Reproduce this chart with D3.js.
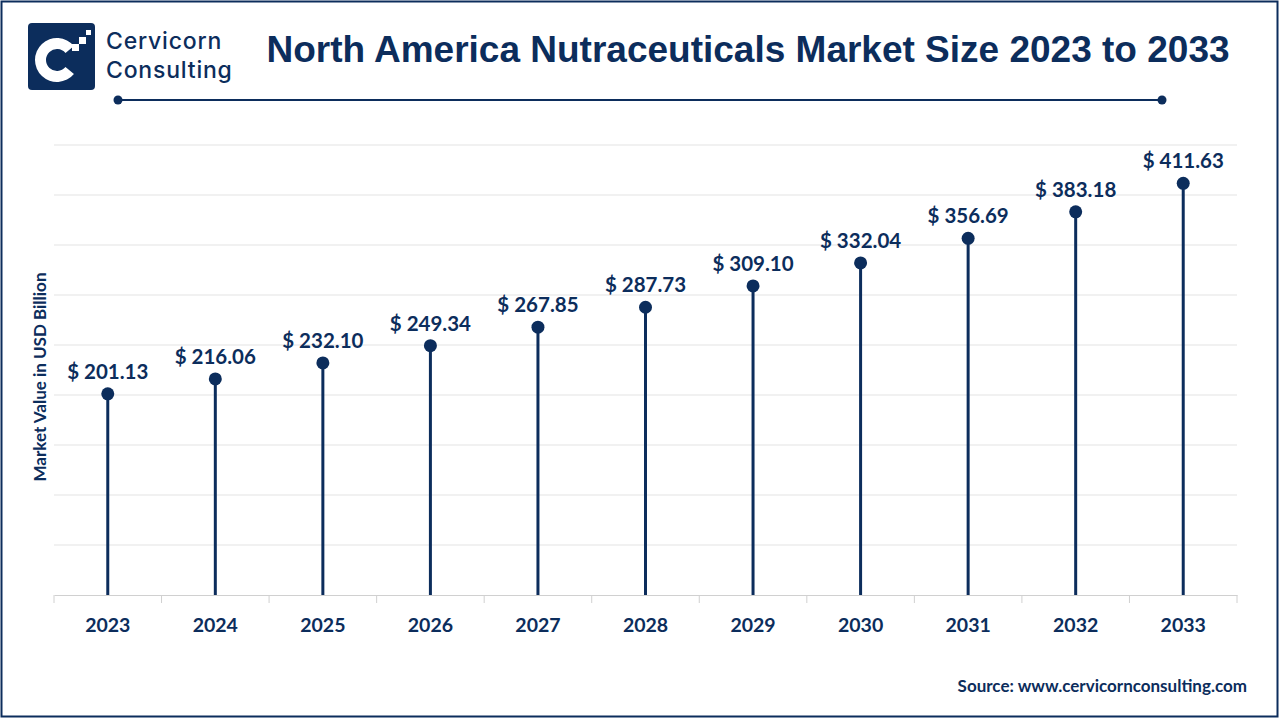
<!DOCTYPE html>
<html><head><meta charset="utf-8">
<script src="https://cdn.jsdelivr.net/npm/d3@7"></script>
<style>body{margin:0;background:#fff}svg{display:block}</style>
</head><body>
<svg id="c" width="1280" height="720"></svg>
<script>
const years = ["2023","2024","2025","2026","2027","2028","2029","2030","2031","2032","2033"];
const values = [201.13,216.06,232.10,249.34,267.85,287.73,309.10,332.04,356.69,383.18,411.63];
const yTicks = [0,50,100,150,200,250,300,350,400,450];
const title = "North America Nutraceuticals Market Size 2023 to 2033";
const yLabel = "Market Value in USD Billion";
const source = "Source: www.cervicornconsulting.com";

const navy = "#0c2d5c";
const svg = d3.select("#c");
svg.append("rect").attr("x",1.5).attr("y",1.5).attr("width",1276).attr("height",715)
  .attr("fill","#fff").attr("stroke",navy).attr("stroke-width",2);

// logo
const lg = svg.append("g");
lg.append("rect").attr("x",28).attr("y",23).attr("width",67).attr("height",67).attr("rx",4).attr("fill",navy);
const arc = d3.arc().innerRadius(11).outerRadius(22).startAngle(Math.PI*0.72).endAngle(Math.PI*2.28);
lg.append("path").attr("d",arc()).attr("transform","translate(57,60)").attr("fill","#fff");
lg.append("rect").attr("x",79).attr("y",37).attr("width",7).attr("height",7).attr("fill","#fff");
lg.append("rect").attr("x",72).attr("y",44).attr("width",7).attr("height",7).attr("fill","#fff");
lg.append("rect").attr("x",86).attr("y",30).attr("width",5).attr("height",5).attr("fill","#fff");
lg.append("text").attr("x",106).attr("y",49).attr("font-family","Inter, Lato, sans-serif").attr("font-weight",500)
  .attr("font-size",23).attr("letter-spacing",0.8).attr("fill",navy).text("Cervicorn");
lg.append("text").attr("x",106).attr("y",78).attr("font-family","Inter, Lato, sans-serif").attr("font-weight",500)
  .attr("font-size",23).attr("letter-spacing",0.8).attr("fill",navy).text("Consulting");

svg.append("text").attr("x",748).attr("y",62).attr("text-anchor","middle")
  .attr("font-family","Liberation Sans, Arial, sans-serif").attr("font-weight","bold").attr("font-size",37)
  .attr("fill",navy).text(title);
svg.append("line").attr("x1",118).attr("x2",1162).attr("y1",100).attr("y2",100).attr("stroke",navy).attr("stroke-width",2);
svg.selectAll("circle.end").data([118,1162]).join("circle").attr("cx",d=>d).attr("cy",100).attr("r",4.5).attr("fill",navy);

const x = d3.scaleBand().domain(years).range([54,1237]);
const y = d3.scaleLinear().domain([0,450]).range([595,145]);

svg.append("g").selectAll("line").data(yTicks.slice(1)).join("line")
  .attr("x1",54).attr("x2",1237).attr("y1",d=>y(d)).attr("y2",d=>y(d))
  .attr("stroke","#e3e3e3").attr("stroke-width",1);

const xa = svg.append("g").attr("transform","translate(0,595)")
  .call(d3.axisBottom(x).tickSize(0).tickPadding(23));
xa.select(".domain").attr("stroke","#d0d0d0");
xa.selectAll("text").attr("font-family","Lato, sans-serif").attr("font-weight","bold").attr("font-size",19.5).attr("fill",navy);
svg.append("g").selectAll("line").data(years.map(d=>x(d)).concat([1237])).join("line")
  .attr("x1",d=>d).attr("x2",d=>d).attr("y1",595).attr("y2",603).attr("stroke","#d0d0d0");

const cx = d=>x(d)+x.bandwidth()/2;
const g = svg.append("g");
g.selectAll("line").data(years).join("line")
  .attr("x1",cx).attr("x2",cx).attr("y1",595).attr("y2",(d,i)=>y(values[i]))
  .attr("stroke",navy).attr("stroke-width",3);
g.selectAll("circle").data(years).join("circle")
  .attr("cx",cx).attr("cy",(d,i)=>y(values[i])).attr("r",6.5).attr("fill",navy);
g.selectAll("text").data(years).join("text")
  .attr("x",cx).attr("y",(d,i)=>y(values[i])-15).attr("text-anchor","middle")
  .attr("font-family","Lato, sans-serif").attr("font-weight","bold").attr("font-size",20.5).attr("fill",navy)
  .text((d,i)=>"$ "+values[i].toFixed(2));

svg.append("text").attr("transform","translate(46,377) rotate(-90)").attr("text-anchor","middle")
  .attr("font-family","Lato, sans-serif").attr("font-weight","bold").attr("font-size",17).attr("fill",navy).text(yLabel);

svg.append("text").attr("x",1247).attr("y",692).attr("text-anchor","end")
  .attr("font-family","Lato, sans-serif").attr("font-weight","bold").attr("font-size",17).attr("fill",navy).text(source);
</script>
</body></html>
